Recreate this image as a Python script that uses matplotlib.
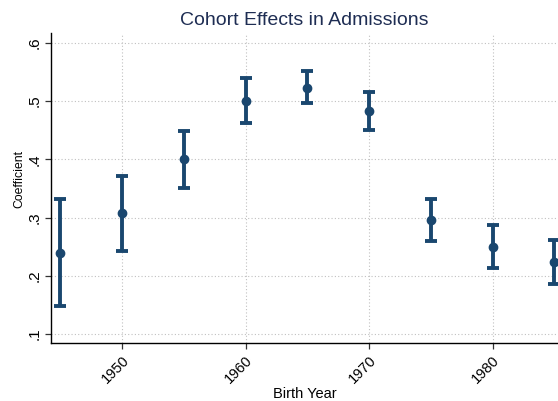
import numpy as np
import matplotlib
matplotlib.use('Agg')
import matplotlib.pyplot as plt

# cohort estimates
years = [1945, 1950, 1955, 1960, 1965, 1970, 1975, 1980, 1985]
coef = [0.239, 0.307, 0.400, 0.501, 0.523, 0.483, 0.295, 0.250, 0.224]
ci_low = [0.148, 0.243, 0.351, 0.463, 0.496, 0.451, 0.260, 0.213, 0.186]
ci_high = [0.331, 0.371, 0.449, 0.540, 0.552, 0.515, 0.331, 0.288, 0.262]

xticks = [1950, 1960, 1970, 1980]
yticks = [0.1, 0.2, 0.3, 0.4, 0.5, 0.6]
ytick_labels = ['.1', '.2', '.3', '.4', '.5', '.6']

plt.rcParams['font.family'] = ['Liberation Sans', 'DejaVu Sans']

navy = '#1a476f'

fig = plt.figure(figsize=(5.58, 4.01), dpi=100)
ax = fig.add_axes([51/558, 58/401, 507/558, 310/401])

coef = np.array(coef)
yerr = [coef - np.array(ci_low), np.array(ci_high) - coef]
ax.errorbar(years, coef, yerr=yerr, fmt='o', color=navy, ecolor=navy,
            elinewidth=2.8, capsize=4, capthick=2.8, markersize=6, zorder=3)

ax.set_xlim(1944.25, 1985.3)
ax.set_ylim(0.0845, 0.617)

ax.set_xticks(xticks)
ax.set_xticklabels([str(t) for t in xticks], rotation=45, ha='right',
                   rotation_mode='anchor', fontsize=10.5)
ax.set_yticks(yticks)
ax.set_yticklabels(ytick_labels, rotation=90, va='center', fontsize=11)

ax.grid(True, color='#c0c0c0', linestyle=(0, (1, 2)), linewidth=0.8)
ax.set_axisbelow(True)

for side in ['top', 'right']:
    ax.spines[side].set_visible(False)
ax.spines['left'].set_linewidth(1.0)
ax.spines['bottom'].set_linewidth(1.0)
ax.tick_params(direction='out', length=4, width=0.9, colors='#333333',
               labelcolor='black', pad=3)

ax.set_xlabel('Birth Year', fontsize=10.5, labelpad=1)
ax.set_ylabel('Coefficient', fontsize=8.8)
ax.yaxis.set_label_coords(-0.051, 0.53)
ax.set_title('Cohort Effects in Admissions', fontsize=14, color='#1e2d53', pad=6)

fig.savefig('out.png', dpi=100)
